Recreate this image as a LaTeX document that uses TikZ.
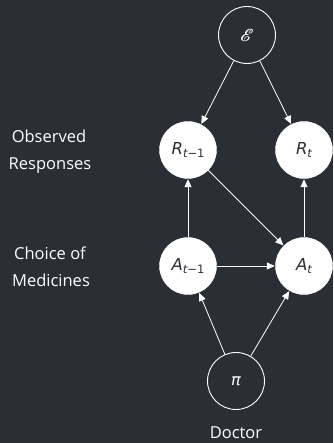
\documentclass[tikz,border=0pt]{standalone}
\usepackage{fontspec}
\usepackage{mathrsfs}
\setmainfont{Open Sans}
\newfontfamily\mfont{DejaVu Sans}
\usetikzlibrary{arrows.meta}
\definecolor{bgc}{HTML}{2B2E35}
\definecolor{ink}{HTML}{2B2E35}
\newcommand\msub[2]{{\mfont\fontsize{16.5}{16.5}\selectfont\itshape #1\raisebox{-3.3pt}{\fontsize{11.5}{11.5}\selectfont #2}}}
\newcommand\fakebold[1]{\rlap{#1}\hspace{0.45pt}#1}
\begin{document}
\begin{tikzpicture}[x=1pt,y=-1pt,
  filled/.style={circle,fill=white,draw=white,minimum size=57pt,inner sep=0pt,text=ink},
  hollow/.style={circle,draw=white,line width=0.9pt,fill=bgc,minimum size=57pt,inner sep=0pt,text=white},
  lbl/.style={text=white,font=\fontsize{16.5}{16.5}\selectfont,anchor=base},
  edge/.style={draw=white,line width=0.8pt,-{Triangle[length=8pt,width=7pt]},shorten >=0.5pt}]
\fill[bgc] (0,0) rectangle (333,443);
\useasboundingbox (0,0) rectangle (333,443);
\node[hollow] (E) at (247,35) {\fontsize{17}{17}\selectfont\fakebold{$\mathscr{E}$}};
\node[filled] (R1) at (188,150) {\msub{R}{t\upshape −1}};
\node[filled] (R2) at (304,150) {\msub{R}{t}};
\node[filled] (A1) at (188,266) {\msub{A}{t\upshape −1}};
\node[filled] (A2) at (304,266) {\msub{A}{t}};
\node[hollow] (P) at (236,381) {{\mfont\fontsize{16}{16}\selectfont\itshape π}};
\node[lbl] (o1) at (49,143) {Observed};
\node[lbl] (o2) at (50,170) {Responses};
\node[lbl] (c1) at (50,259) {Choice of};
\node[lbl] (c2) at (51,286) {Medicines};
\node[lbl] (d) at (236,438.5) {Doctor};
\draw[edge] (E) -- (R1);
\draw[edge] (E) -- (R2);
\draw[edge] (A1) -- (R1);
\draw[edge] (A2) -- (R2);
\draw[edge] (R1) -- (A2);
\draw[edge] (A1) -- (A2);
\draw[edge] (P) -- (A1);
\draw[edge] (P) -- (A2);
\end{tikzpicture}
\end{document}
